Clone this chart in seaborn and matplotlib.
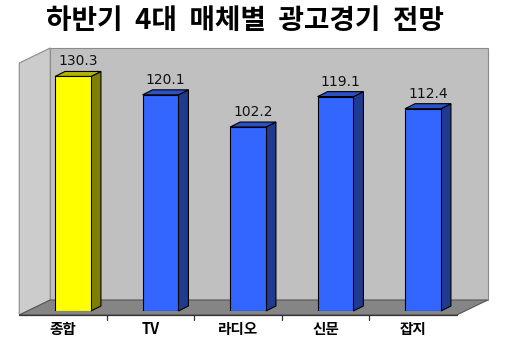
import matplotlib
matplotlib.use("Agg")
import matplotlib.pyplot as plt
import matplotlib.transforms as mtransforms
from matplotlib.patches import Polygon
import seaborn as sns
import pandas as pd

categories = ["종합", "TV", "라디오", "신문", "잡지"]
values = [130.3, 120.1, 102.2, 119.1, 112.4]
value_labels = ["130.3", "120.1", "102.2", "119.1", "112.4"]
title = "하반기  4대  매체별  광고경기  전망"

sns.set_theme(style="white")
plt.rcParams['font.family'] = ['Noto Sans CJK KR', 'DejaVu Sans']

W, H, DPI = 510, 343, 100
fig = plt.figure(figsize=(W / DPI, H / DPI), dpi=DPI)
fig.patch.set_facecolor("white")

ax_left, ax_right = 29.25, 466.75
y0_px = 311
ymax = 150
ax_h = ymax * 1.8
ax = fig.add_axes([ax_left / W, (H - y0_px) / H, (ax_right - ax_left) / W, ax_h / H])

def shifted(dx, dy):
    return ax.transData + mtransforms.ScaledTranslation(dx / DPI, dy / DPI, fig.dpi_scale_trans)

df = pd.DataFrame({"cat": categories, "val": values})
palette = ["#ffff00"] + ["#3366ff"] * 4
sns.barplot(data=df, x="cat", y="val", hue="cat", palette=palette, legend=False,
            saturation=1, width=0.41, ax=ax, edgecolor="black", linewidth=0.8, zorder=3)
ax.set_xlim(-0.5, 4.5)
ax.set_ylim(0, ymax)
ax.axis("off")
inv = ax.transData.inverted()

front = shifted(-10, -4)
back = shifted(21, 11)
wall_top = 140

ax.add_patch(Polygon([(-0.5, 0), (4.5, 0), (4.5, wall_top), (-0.5, wall_top)],
                     closed=True, transform=back, facecolor="#c0c0c0",
                     edgecolor="#8a8a8a", lw=0.8, clip_on=False, zorder=0))
p_fb = front.transform((-0.5, 0)); p_ft = front.transform((-0.5, wall_top))
p_bb = back.transform((-0.5, 0)); p_bt = back.transform((-0.5, wall_top))
ax.add_patch(Polygon(inv.transform([p_fb, p_bb, p_bt, p_ft]), closed=True,
                     transform=ax.transData, facecolor="#cccccc",
                     edgecolor="#8a8a8a", lw=0.8, clip_on=False, zorder=0))
f1 = front.transform((-0.5, 0)); f2 = front.transform((4.5, 0))
b2 = back.transform((4.5, 0)); b1 = back.transform((-0.5, 0))
ax.add_patch(Polygon(inv.transform([f1, f2, b2, b1]), closed=True,
                     transform=ax.transData, facecolor="#858585",
                     edgecolor="#555555", lw=0.8, clip_on=False, zorder=0.5))
ax.plot([-0.5, 4.5], [0, 0], transform=front, color="#333333", lw=0.9, clip_on=False, zorder=1)
for i in range(1, len(categories)):
    ax.plot([i - 0.5, i - 0.5], [0, -2.5], transform=front, color="#333333", lw=0.9,
            clip_on=False, zorder=1)

side_cols = ["#808000"] + ["#1f3a8f"] * 4
top_cols = ["#b3b300"] + ["#2b50c8"] * 4
ddx, ddy = 10, 5
for i, bar in enumerate(ax.patches[:len(categories)]):
    x0 = bar.get_x(); w = bar.get_width(); h = bar.get_height()
    pts = ax.transData.transform([(x0, 0), (x0 + w, 0), (x0 + w, h), (x0, h)])
    bl, br, tr, tl = pts
    side = [br, br + (ddx, ddy), tr + (ddx, ddy), tr]
    top = [tl, tr, tr + (ddx, ddy), tl + (ddx, ddy)]
    ax.add_patch(Polygon(inv.transform(side), closed=True, facecolor=side_cols[i],
                         edgecolor="black", lw=0.8, clip_on=False, zorder=2.9))
    ax.add_patch(Polygon(inv.transform(top), closed=True, facecolor=top_cols[i],
                         edgecolor="black", lw=0.8, clip_on=False, zorder=2.9))
    ax.text(x0 + w / 2, h, value_labels[i], transform=shifted(5, 8), ha="center",
            va="bottom", fontsize=10, family=["DejaVu Sans"],
            color="#111111", zorder=5)
    ax.text(i, 0, categories[i], transform=shifted(-10, -10), ha="center", va="top",
            fontsize=10.5, fontweight="bold", color="black", zorder=5)

fig.text(245 / W, 1 - 21 / H, title, ha="center", va="center", fontsize=20,
         fontweight="bold", color="black")

fig.savefig("out.png", dpi=DPI)
